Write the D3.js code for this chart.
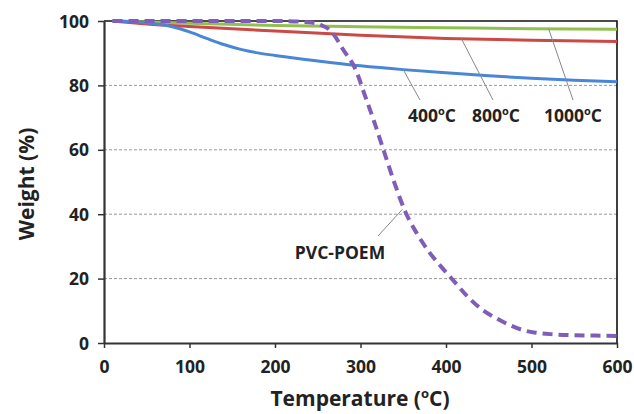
<!DOCTYPE html>
<html><head><meta charset="utf-8">
<script src="https://cdn.jsdelivr.net/npm/d3@7"></script>
<style>body{margin:0;background:#fff}svg{display:block}text{font-family:"Open Sans",Lato,sans-serif;font-weight:700;fill:#222}</style>
</head><body><svg id="c" width="634" height="414"></svg>
<script>
const xTicks = [0,100,200,300,400,500,600];
const yTicks = [0,20,40,60,80,100];
const tBlue = [10,50,80,100,120,140,160,180,200,250,300,350,400,450,500,550,600];
const wBlue = [100,99.4,98.2,96.6,94.6,92.7,91.2,90.1,89.3,87.6,86.1,84.9,83.9,83,82.2,81.6,81.1];
const tRed = [10,50,100,150,200,300,400,500,600];
const wRed = [100,99.1,98.3,97.6,96.9,95.6,94.6,94,93.6];
const tGreen = [10,100,200,300,400,500,600];
const wGreen = [100,99.3,98.6,98.2,97.9,97.6,97.4];
const tPurple = [10,100,200,240,255,265,280,295,305,315,325,340,352,366,381,395,410,425,443,460,475,490,505,525,550,575,600];
const wPurple = [100,100,100,99.6,98.6,97,91,84.5,77,69.5,61.5,49.5,41,34,28,23.5,19,14.5,10.2,7.5,5.5,4,3.2,2.7,2.4,2.3,2.2];
const labels = [
  {num:"400", t:350, w:84.9, lx:420, ly:100, tx:432},
  {num:"800", t:418, w:94.5, lx:493, ly:100, tx:496},
  {num:"1000", t:520, w:97.6, lx:573, ly:100, tx:573}
];

const svg = d3.select("#c");
const L=104, R=617, T=21, B=343;
const x = d3.scaleLinear().domain([0,600]).range([L,R]);
const y = d3.scaleLinear().domain([0,100]).range([B,T]);

// grid
svg.append("g").selectAll("line").data(yTicks.filter(v=>v>0&&v<100)).join("line")
  .attr("x1",L).attr("x2",R).attr("y1",d=>y(d)).attr("y2",d=>y(d))
  .attr("stroke","#999").attr("stroke-width",1).attr("stroke-dasharray","3,2");

// frame top/right
svg.append("path").attr("d",`M${L},${T}H${R}V${B}`).attr("fill","none").attr("stroke","#111").attr("stroke-width",1.6);

const line = (ts,ws)=>d3.line().curve(d3.curveMonotoneX).x((d,i)=>x(ts[i])).y((d,i)=>y(ws[i]))(ts);
svg.append("path").attr("d",line(tGreen,wGreen)).attr("fill","none").attr("stroke","#92c050").attr("stroke-width",3);
svg.append("path").attr("d",line(tRed,wRed)).attr("fill","none").attr("stroke","#cc4a46").attr("stroke-width",3);
svg.append("path").attr("d",line(tBlue,wBlue)).attr("fill","none").attr("stroke","#4a86d6").attr("stroke-width",3);
svg.append("path").attr("d",line(tPurple,wPurple)).attr("fill","none").attr("stroke","#7f5db8").attr("stroke-width",4).attr("stroke-dasharray","10,6");

// axes
const xa = svg.append("g").attr("transform",`translate(0,${B})`).call(d3.axisBottom(x).tickValues(xTicks).tickSize(5).tickSizeOuter(0));
const ya = svg.append("g").attr("transform",`translate(${L},0)`).call(d3.axisLeft(y).tickValues(yTicks).tickSize(6).tickSizeOuter(0));
[xa,ya].forEach(a=>{a.select(".domain").attr("stroke","#333").attr("stroke-width",2.2);
  a.selectAll(".tick line").attr("stroke","#333").attr("stroke-width",1.5);
  a.selectAll(".tick text").attr("font-size",17.5).attr("font-family","'Open Sans',sans-serif").attr("font-weight",700).attr("fill","#222");});
xa.selectAll(".tick text").attr("dy",0).attr("y",30);
ya.selectAll(".tick text").attr("x",-15).attr("dy","0.35em");

// labels
labels.forEach(l=>{
  svg.append("line").attr("x1",x(l.t)).attr("y1",y(l.w)).attr("x2",l.lx).attr("y2",l.ly).attr("stroke","#888").attr("stroke-width",1);
  const t = svg.append("text").attr("x",l.tx).attr("y",122).attr("text-anchor","middle").attr("font-size",17.5);
  t.append("tspan").text(l.num);
  t.append("tspan").text("o").attr("font-size",11).attr("dy",-7);
  t.append("tspan").text("C").attr("dy",7);
});
svg.append("line").attr("x1",x(349)).attr("y1",y(41.5)).attr("x2",378).attr("y2",236).attr("stroke","#888").attr("stroke-width",1);
svg.append("text").attr("x",340).attr("y",259).attr("text-anchor","middle").attr("font-size",17.5).text("PVC-POEM");

// axis titles
const xt = svg.append("text").attr("x",360).attr("y",406).attr("text-anchor","middle").attr("font-size",21);
xt.append("tspan").text("Temperature (");
xt.append("tspan").text("o").attr("font-size",13).attr("dy",-8);
xt.append("tspan").text("C)").attr("dy",8);
svg.append("text").attr("transform","translate(34,184) rotate(-90)").attr("text-anchor","middle").attr("font-size",21).text("Weight (%)");
</script></body></html>
